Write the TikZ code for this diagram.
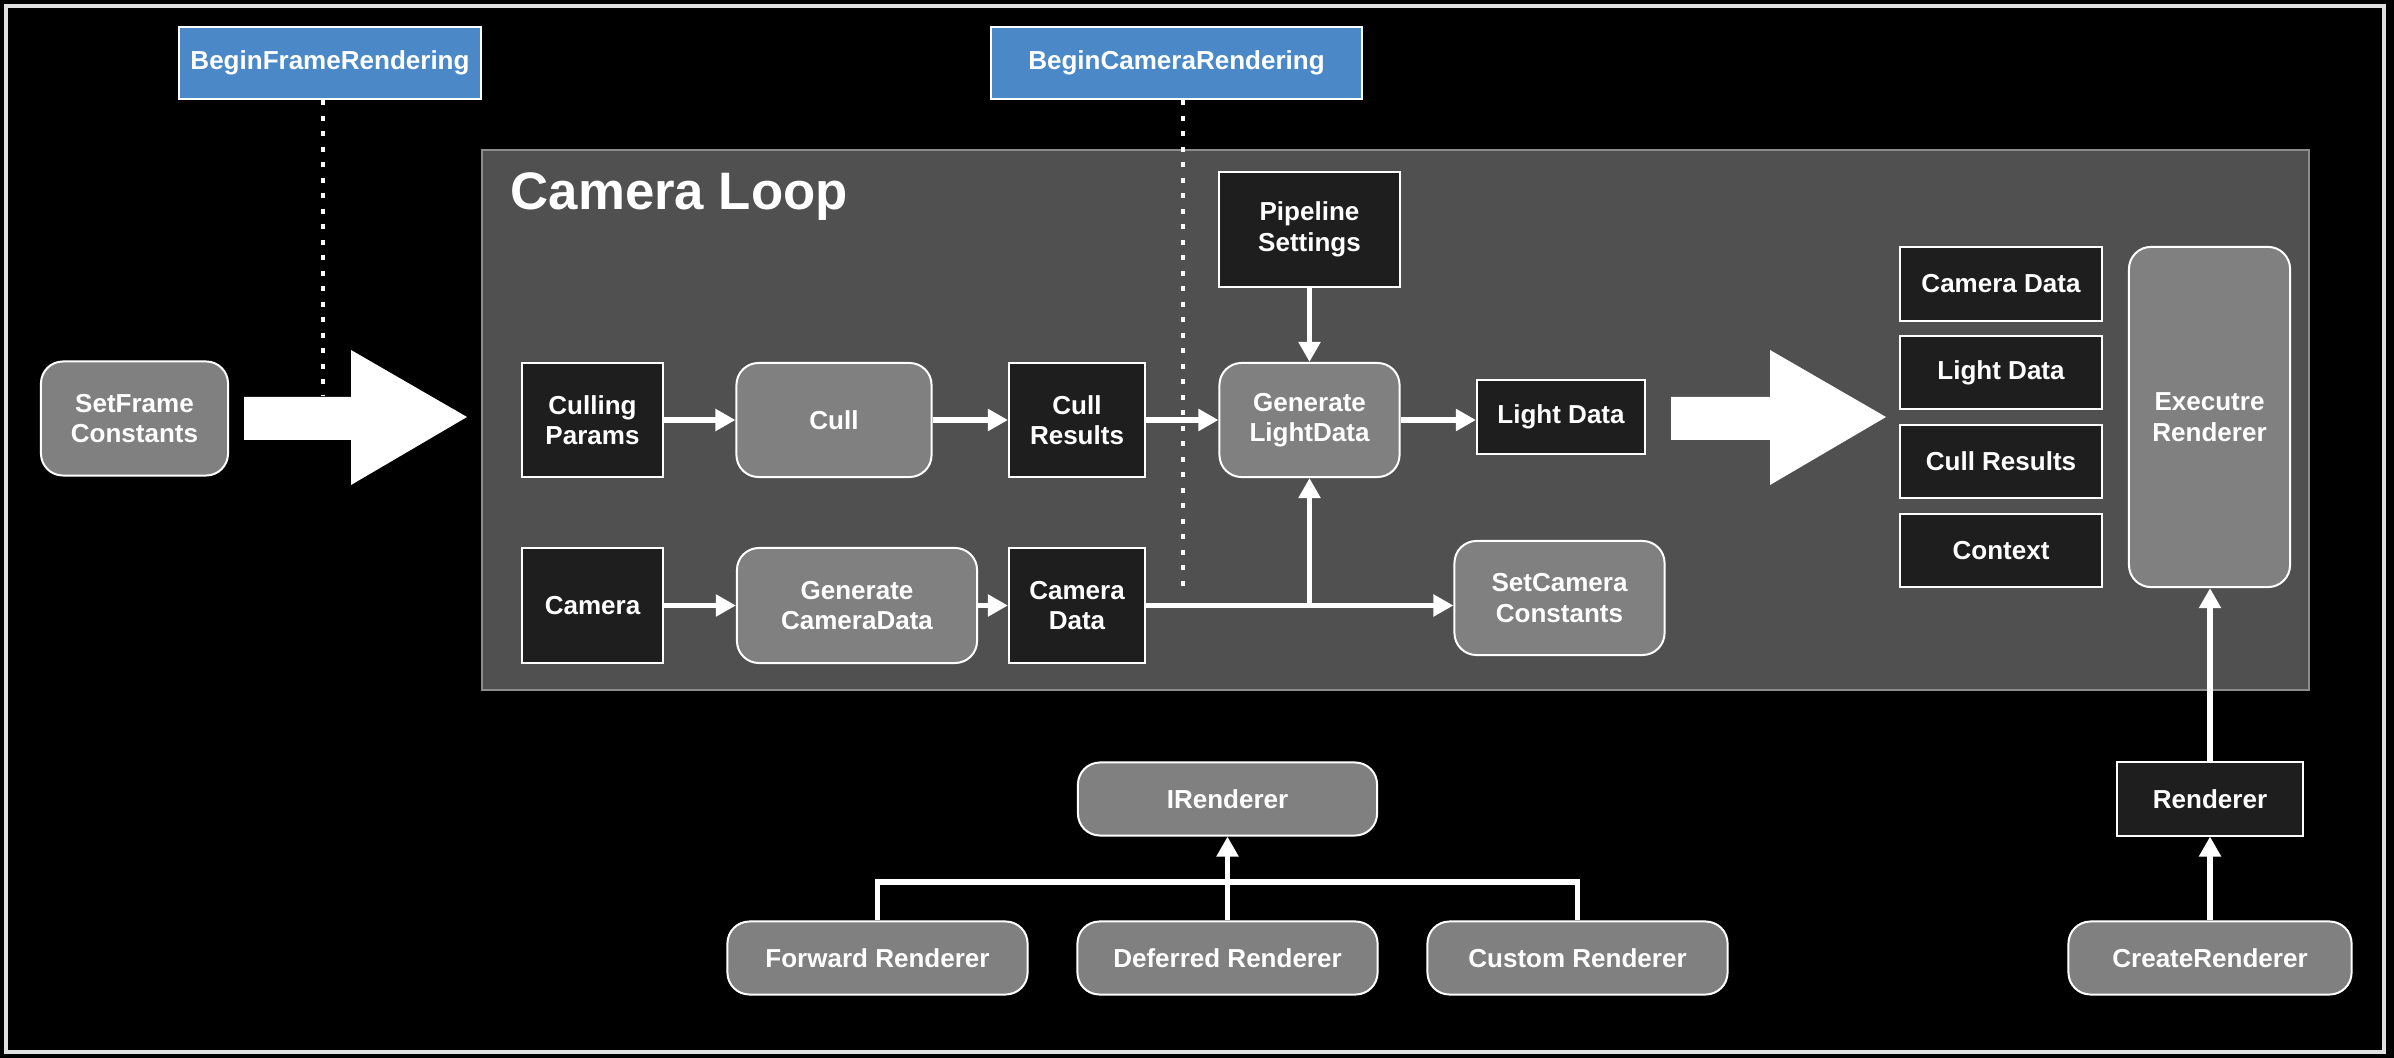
\documentclass[tikz,border=0pt]{standalone}
\usepackage{fontspec}
\setmainfont{Liberation Sans}
\usetikzlibrary{arrows.meta}
\definecolor{eventblue}{HTML}{4A88C7}
\definecolor{loopgray}{HTML}{505050}
\definecolor{loopedge}{HTML}{8C8C8C}
\definecolor{datafill}{HTML}{1E1E1E}
\definecolor{stepfill}{HTML}{808080}
\definecolor{framegray}{HTML}{E0E0E0}

\begin{document}
\begin{tikzpicture}[x=0.01cm, y=-0.01cm,
  font=\fontsize{7.4}{8.7}\selectfont\bfseries, text=white,
  box/.style={draw=white, line width=0.02cm, inner sep=0pt, align=center},
  datanode/.style={box, fill=datafill},
  stepnode/.style={box, fill=stepfill, rounded corners=0.22cm},
  eventnode/.style={box, fill=eventblue},
  arr/.style={draw=white, line width=0.055cm, -{Triangle[length=0.2cm,width=0.21cm]}},
  hook/.style={draw=white, line width=0.04cm, dash pattern=on 0.05cm off 0.105cm}]

  % Draw the black page and its frame
  \fill[black] (0,0) rectangle (2394,1058);
  \draw[framegray, line width=0.04cm] (6,6) rectangle (2384,1052);

  % Draw the camera loop panel
  \draw[loopedge, fill=loopgray, line width=0.02cm] (482,150) rectangle (2309,690);
  \node[anchor=base west, inner sep=0pt, font=\fontsize{15}{18}\selectfont\bfseries] (loopTitle) at (510,210) {Camera Loop};

  % Events and their dotted hooks
  \node[eventnode, minimum width=3.02cm, minimum height=0.72cm] (beginFrame) at (330,63) {BeginFrameRendering};
  \node[eventnode, minimum width=3.71cm, minimum height=0.72cm] (beginCamera) at (1176.5,63) {BeginCameraRendering};
  \coordinate (frameHook) at (323,396);
  \coordinate (camHook) at (1183,591);
  \draw[hook] (frameHook |- beginFrame.south) -- (frameHook);
  \draw[hook] (camHook |- beginCamera.south) -- (camHook);

  % Two big arrows
  \foreach \xs/\len in {244/107, 1671/99} {
    \fill[white] (\xs,397) -- ++(\len,0) -- ++(0,-47) -- ++(116,67) -- ++(-116,68)
      -- ++(0,-45) -- ++(-\len,0) -- cycle;
  }

  \node[stepnode, minimum width=1.87cm, minimum height=1.14cm] (setFrame) at (134.5,418.5) {SetFrame\\Constants};

  % Culling row
  \node[datanode, minimum width=1.41cm, minimum height=1.14cm] (cullParams) at (592.5,420) {Culling\\Params};
  \node[stepnode, minimum width=1.95cm, minimum height=1.14cm] (cull) at (834,420) {Cull};
  \node[datanode, minimum width=1.36cm, minimum height=1.14cm] (cullResults) at (1077,420) {Cull\\Results};
  \node[stepnode, minimum width=1.80cm, minimum height=1.14cm] (genLight) at (1309.5,420) {Generate\\LightData};
  \node[datanode, minimum width=1.68cm, minimum height=0.73cm] (lightData) at (1561,417) {Light Data};
  \node[datanode, minimum width=1.80cm, minimum height=1.14cm] (pipeline) at (1309.5,229.5) {Pipeline\\Settings};

  % Camera row
  \node[datanode, minimum width=1.41cm, minimum height=1.15cm] (camera) at (592.5,605.5) {Camera};
  \node[stepnode, minimum width=2.40cm, minimum height=1.15cm] (genCamera) at (857,605.5) {Generate\\CameraData};
  \node[datanode, minimum width=1.36cm, minimum height=1.15cm] (cameraData) at (1077,605.5) {Camera\\Data};
  \node[stepnode, minimum width=2.10cm, minimum height=1.14cm] (setCamera) at (1559.5,598) {SetCamera\\Constants};

  % Renderer inputs
  \foreach \nm/\txt/\yy in {rCamera/Camera Data/284, rLight/Light Data/372.5, rCull/Cull Results/461.5, rContext/Context/550.5}
    \node[datanode, minimum width=2.02cm, minimum height=0.73cm] (\nm) at (2001,\yy) {\txt};
  \node[stepnode, minimum width=1.61cm, minimum height=3.40cm] (execRenderer) at (2209.5,417) {Executre\\Renderer};
  \node[datanode, minimum width=1.85cm, minimum height=0.73cm] (renderer) at (2210,799) {Renderer};
  \node[stepnode, minimum width=2.83cm, minimum height=0.73cm] (createRenderer) at (2210,958) {CreateRenderer};

  % Renderer types
  \node[stepnode, minimum width=2.99cm, minimum height=0.73cm] (iRenderer) at (1227.5,799) {IRenderer};
  \foreach \nm/\txt/\xx in {forwardR/Forward Renderer/877.5, deferredR/Deferred Renderer/1227.5, customR/Custom Renderer/1577.5}
    \node[stepnode, minimum width=3.00cm, minimum height=0.73cm] (\nm) at (\xx,958) {\txt};

  % Connectors
  \draw[arr] (cullParams) -- (cull);
  \draw[arr] (cull) -- (cullResults);
  \draw[arr] (cullResults) -- (genLight);
  \draw[arr] (genLight.east) -- (genLight.east -| lightData.west);
  \draw[arr] (pipeline) -- (genLight);
  \draw[arr] (camera) -- (genCamera);
  \draw[arr] (genCamera) -- (cameraData);
  \draw[arr] (cameraData.east) -- (cameraData.east -| setCamera.west);
  \coordinate (split) at (genLight.south |- cameraData.east);
  \draw[arr] (split) -- (genLight.south);
  \draw[arr] (createRenderer) -- (renderer);
  \draw[arr] (renderer.north) -- (renderer.north |- execRenderer.south);
  \coordinate (barMid) at (1227.5,882);
  \draw[white, line width=0.055cm] (forwardR.north) |- (barMid) -| (customR.north);
  \draw[arr] (deferredR) -- (iRenderer);
\end{tikzpicture}
\end{document}
